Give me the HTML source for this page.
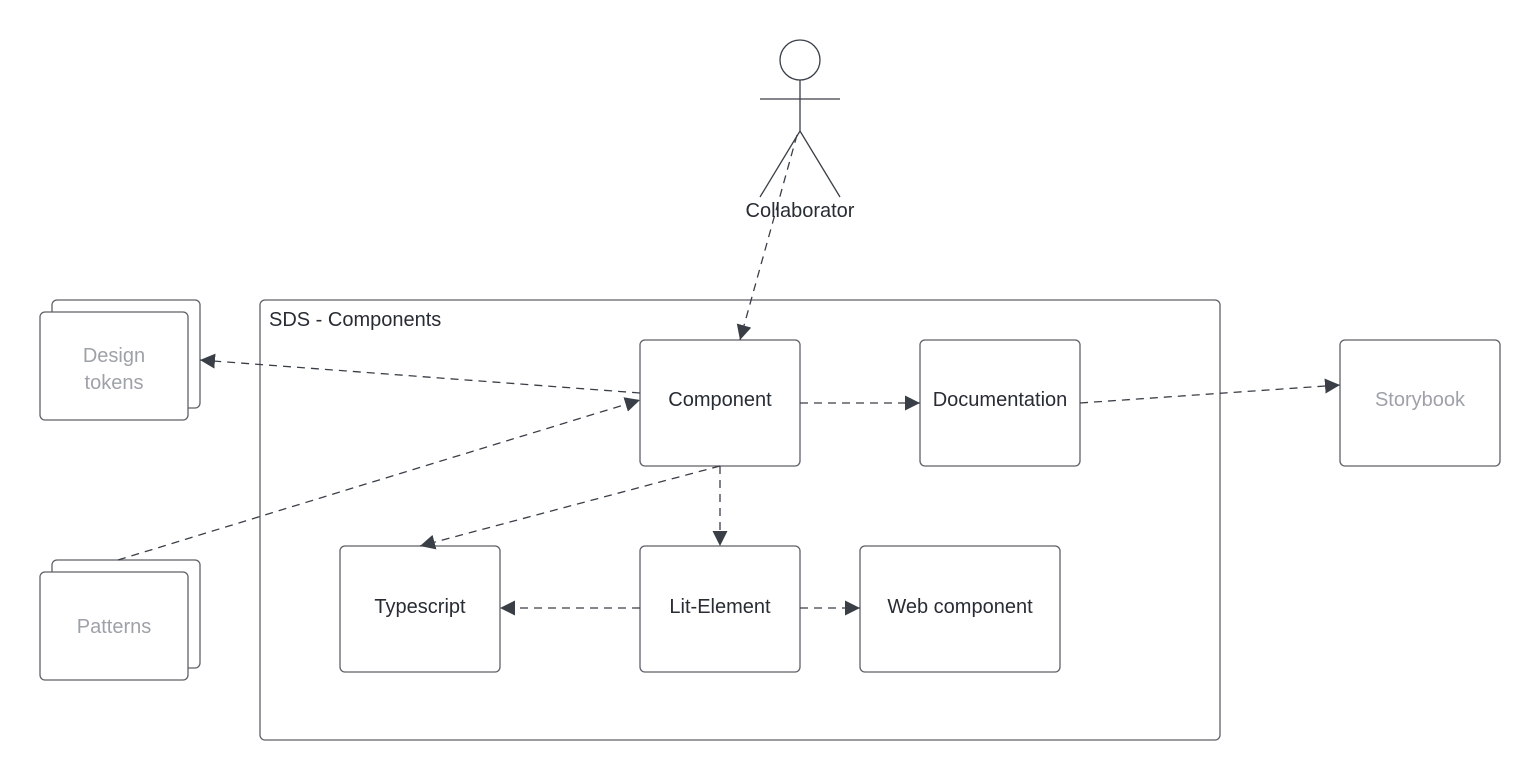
<!DOCTYPE html>
<html><head><meta charset="utf-8"><style>
html,body{margin:0;padding:0;background:#fff;}
svg{display:block;}
text{font-family:"Liberation Sans",sans-serif;font-size:20px;}
</style></head><body>
<svg width="1540" height="780" viewBox="0 0 1540 780" xmlns="http://www.w3.org/2000/svg">
<defs>
<marker id="a" viewBox="0 0 10 10" refX="10" refY="5" markerWidth="15" markerHeight="15" markerUnits="userSpaceOnUse" orient="auto">
<path d="M0,0 L10,5 L0,10 z" fill="#3a3f47"/>
</marker>
</defs>
<g fill="#fff" stroke="#5d6168" stroke-width="1.3">
<rect x="260" y="300" width="960" height="440" rx="5"/>
<rect x="52" y="300" width="148" height="108" rx="5"/>
<rect x="40" y="312" width="148" height="108" rx="5"/>
<rect x="52" y="560" width="148" height="108" rx="5"/>
<rect x="40" y="572" width="148" height="108" rx="5"/>
<rect x="640" y="340" width="160" height="126" rx="5"/>
<rect x="920" y="340" width="160" height="126" rx="5"/>
<rect x="1340" y="340" width="160" height="126" rx="5"/>
<rect x="340" y="546" width="160" height="126" rx="5"/>
<rect x="640" y="546" width="160" height="126" rx="5"/>
<rect x="860" y="546" width="200" height="126" rx="5"/>
</g>
<g fill="none" stroke="#3a3f47" stroke-width="1.3">
<circle cx="800" cy="60" r="20"/>
<line x1="760" y1="99" x2="840" y2="99"/>
<line x1="800" y1="80" x2="800" y2="131"/>
<polyline points="760,197 800,131 840,197"/>
</g>
<g fill="none" stroke="#3a3f47" stroke-width="1.3" stroke-dasharray="8,6" marker-end="url(#a)">
<line x1="797" y1="135" x2="740" y2="340"/>
<line x1="640" y1="393" x2="200" y2="360"/>
<line x1="118" y1="560" x2="640" y2="400"/>
<line x1="800" y1="403" x2="920" y2="403"/>
<line x1="1080" y1="403" x2="1340" y2="385"/>
<line x1="720" y1="466" x2="420" y2="546"/>
<line x1="720" y1="466" x2="720" y2="546"/>
<line x1="640" y1="608" x2="500" y2="608"/>
<line x1="800" y1="608" x2="860" y2="608"/>
</g>
<g fill="#282c33" text-anchor="middle" dominant-baseline="central">
<text x="800" y="211">Collaborator</text>
<text x="720" y="400">Component</text>
<text x="1000" y="400">Documentation</text>
<text x="420" y="607">Typescript</text>
<text x="720" y="607">Lit-Element</text>
<text x="960" y="607">Web component</text>
</g>
<g fill="#9ea2a8" text-anchor="middle" dominant-baseline="central">
<text x="114" y="356">Design</text>
<text x="114" y="383">tokens</text>
<text x="114" y="627">Patterns</text>
<text x="1420" y="400">Storybook</text>
</g>
<text x="269" y="320" fill="#282c33" dominant-baseline="central">SDS - Components</text>
</svg>
</body></html>
